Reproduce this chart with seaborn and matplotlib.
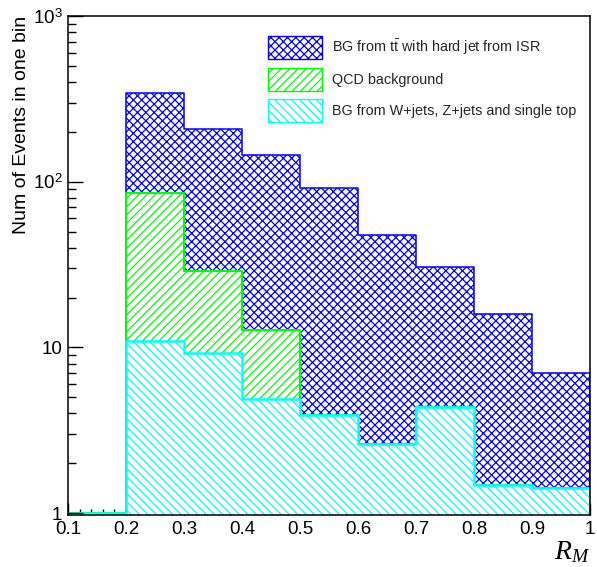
import numpy as np
import pandas as pd
import matplotlib
matplotlib.use("Agg")
import matplotlib.pyplot as plt
import seaborn as sns
from matplotlib.patches import Patch
from matplotlib.ticker import MultipleLocator, NullFormatter

# ---------------- data ----------------
bin_edges = [0.1, 0.2, 0.3, 0.4, 0.5, 0.6, 0.7, 0.8, 0.9, 1.0]
# individual (stacked) contributions per bin
wz_single_top = [0.0, 10.9, 9.3, 4.9, 3.9, 2.6, 4.4, 1.47, 1.41]
qcd = [0.0, 75.0, 19.6, 7.9, 0.0, 0.0, 0.0, 0.0, 0.0]
ttbar_isr = [0.0, 255.0, 179.0, 132.0, 88.0, 45.4, 26.1, 14.5, 5.6]

series_labels = [
    r"BG from $\mathrm{t\bar{t}}$ with hard jet from ISR",
    "QCD background",
    "BG from W+jets, Z+jets and single top",
]
series_colors = ["#0000ff", "#00ff00", "#00ffff"]
series_hatches = ["xxxx", "////", "\\\\\\\\"]

x_tick_values = [0.1, 0.2, 0.3, 0.4, 0.5, 0.6, 0.7, 0.8, 0.9, 1.0]
x_tick_labels = ["0.1", "0.2", "0.3", "0.4", "0.5", "0.6", "0.7", "0.8", "0.9", "1"]
y_tick_values = [1, 10, 100, 1000]
y_tick_labels = ["1", "10", r"$10^{2}$", r"$10^{3}$"]
y_min, y_max = 1.0, 1000.0

# ---------------- style ----------------
sns.set_theme(style="ticks")
plt.rcParams["font.family"] = ["Liberation Sans", "DejaVu Sans"]
plt.rcParams["mathtext.fontset"] = "custom"
plt.rcParams["mathtext.rm"] = "Liberation Sans"
plt.rcParams["mathtext.it"] = "Liberation Serif:italic"
plt.rcParams["mathtext.bf"] = "Liberation Sans:bold"
plt.rcParams["hatch.linewidth"] = 0.9

fig = plt.figure(figsize=(5.97, 5.67), dpi=100)
ax = fig.add_axes([68 / 597, 52 / 567, 522 / 597, 499 / 567])
ax.set_yscale("log")

edges = np.array(bin_edges)
centers = (edges[:-1] + edges[1:]) / 2

w = np.array(wz_single_top)
q = np.array(qcd)
t = np.array(ttbar_isr)
layers = [w + q + t, w + q, w]  # drawn back to front: total, W+QCD, W
linewidths = [1.1, 1.5, 1.8]

for heights, color, hatch, lw in zip(layers, series_colors, series_hatches, linewidths):
    # empty bins are drawn on the lower edge of the frame, as ROOT does
    df = pd.DataFrame({"x": centers, "weight": np.maximum(heights, y_min)})
    n_before = len(ax.collections)
    sns.histplot(data=df, x="x", weights="weight", bins=list(bin_edges), element="step",
                 fill=True, ax=ax, color=color, linewidth=lw)
    for coll in ax.collections[n_before:]:
        coll.set_facecolor("white")
        coll.set_edgecolor(color)
        coll.set_hatch(hatch)
        coll.set_linewidth(lw)
        coll.set_zorder(2)

ax.set_xlim(0.1, 1.0)
ax.set_ylim(y_min * 0.975, y_max)

# ticks
ax.set_xticks(x_tick_values, x_tick_labels)
ax.xaxis.set_minor_locator(MultipleLocator(0.02))
ax.set_yticks(y_tick_values, y_tick_labels)
ax.yaxis.set_minor_formatter(NullFormatter())
ax.tick_params(axis="x", which="major", direction="in", bottom=True, top=False,
               length=8.6, width=1.0, color="black", labelcolor="black",
               labelsize=13.5, pad=4)
ax.tick_params(axis="x", which="minor", direction="in", bottom=True, top=False,
               length=4.3, width=1.0, color="black")
ax.tick_params(axis="y", which="major", direction="in", left=True, right=False,
               length=11, width=1.0, color="black", labelcolor="black",
               labelsize=13.5, pad=4)
ax.tick_params(axis="y", which="minor", direction="in", left=True, right=False,
               length=5.8, width=1.0, color="black")
ax.xaxis.set_zorder(1)   # x ticks hidden under the histograms, as in ROOT
ax.yaxis.set_zorder(6)
for sp in ax.spines.values():
    sp.set_visible(True)
    sp.set_color("black")
    sp.set_linewidth(1.1)
    sp.set_zorder(5)

ax.set_ylabel("Num of Events in one bin", fontsize=14, loc="top", color="black")
ax.yaxis.set_label_coords(-0.0728, 1.0)
ax.set_xlabel(r"$R_M$", fontsize=20, loc="right", labelpad=1, color="black")

handles = [Patch(facecolor="white", edgecolor=c, hatch=h, linewidth=1.0)
           for c, h in zip(series_colors, series_hatches)]
ax.legend(handles, series_labels, loc="upper left",
          bbox_to_anchor=(268 / 597, 1 - 36 / 567), bbox_transform=fig.transFigure,
          frameon=False, fontsize=10.4, handlelength=3.75, handleheight=2.05,
          handletextpad=0.7, labelspacing=0.62, borderpad=0, borderaxespad=0)

fig.savefig("out.png", dpi=100)
